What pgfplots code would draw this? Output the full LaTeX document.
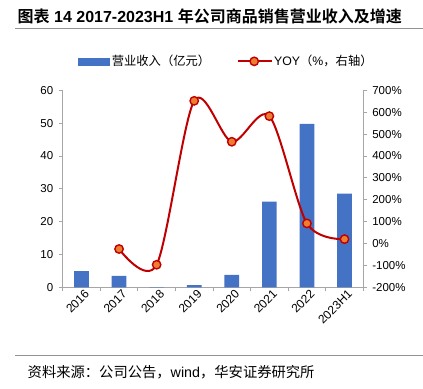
\documentclass[border=0pt]{standalone}
\usepackage{fontspec}
\setmainfont{Liberation Sans}
\newfontfamily\cjk{Noto Sans CJK SC}[BoldFont={Noto Sans CJK SC Bold}]
\usepackage{pgfplots}
\pgfplotsset{compat=1.18}
\definecolor{barblue}{HTML}{4472C4}
\definecolor{linered}{HTML}{C00000}
\definecolor{mkorange}{HTML}{ED7D31}
\definecolor{axgray}{HTML}{A6A6A6}
\pgfplotsset{
  barleg/.style={legend image code/.code={\fill[barblue] (0bp,-3.5bp) rectangle (31bp,3.5bp);}},
  lineleg/.style={legend image code/.code={\draw[##1, mark repeat=2, mark phase=2] plot coordinates {(0bp,0bp) (16bp,0bp) (33bp,0bp)};}},
}
\begin{document}
\begin{tikzpicture}
\path[use as bounding box] (0bp,0bp) rectangle (423bp,389bp);
% title
\node[anchor=west,inner sep=0pt] at (17.5bp,373bp) {\fontsize{16bp}{18bp}\selectfont\bfseries{\cjk 图表} 14 2017-2023H1 {\cjk 年公司商品销售营业收入及增速}};
\draw[color=gray!85, line width=1.5bp] (15bp,360.5bp) -- (423bp,360.5bp);
% source
\draw[color=gray!85, line width=1bp] (15bp,33bp) -- (423bp,33bp);
\node[anchor=west,inner sep=0pt] at (27.5bp,17bp) {\fontsize{14.3bp}{16bp}\selectfont{\cjk 资料来源：公司公告，}wind{\cjk ，华安证券研究所}};

\begin{axis}[
  at={(62.7bp,101.7bp)}, anchor=south west,
  scale only axis, width=300.6bp, height=197bp,
  xmin=-0.5, xmax=7.5, ymin=0, ymax=60,
  axis y line*=left, axis x line*=bottom,
  axis line style={axgray, line width=0.8bp},
  every tick/.style={axgray, line width=0.8bp},
  ytick={0,10,...,60},
  xtick={0,...,7},
  xticklabels={2016,2017,2018,2019,2020,2021,2022,2023H1},
  minor xtick={-0.5,0.5,...,7.5},
  major x tick style={draw=none},
  tick align=outside,
  major tick length=4bp, minor tick length=4bp,
  ticklabel style={font=\fontsize{11.5bp}{13bp}\selectfont},
  xticklabel style={font=\fontsize{12bp}{14bp}\selectfont, rotate=45, anchor=north east, inner sep=1bp, xshift=4.5bp, yshift=1bp},
  yticklabel style={xshift=-2bp},
  /pgf/number format/assume math mode=true,
  clip=false,
]
\addplot[ybar, bar width=14.7bp, fill=barblue, draw=none] coordinates {
 (0,4.95) (1,3.5) (2,0.05) (3,0.7) (4,3.8) (5,26.1) (6,49.8) (7,28.5)};
\end{axis}

\begin{axis}[
  at={(62.7bp,101.7bp)}, anchor=south west,
  scale only axis, width=300.6bp, height=197bp,
  xmin=-0.5, xmax=7.5, ymin=-200, ymax=700,
  axis y line*=right, axis x line=none,
  axis line style={axgray, line width=0.8bp},
  every tick/.style={axgray, line width=0.8bp},
  ytick={-200,-100,...,700},
  tick align=outside, major tick length=4bp,
  ticklabel style={font=\fontsize{11.5bp}{13bp}\selectfont},
  yticklabel={\pgfmathprintnumber{\tick}\%},
  yticklabel style={xshift=1.5bp},
  /pgf/number format/assume math mode=true,
  clip=false,
  legend columns=2,
  legend style={at={(0.545,1.147)}, anchor=center, draw=none, fill=none,
    font=\fontsize{12.3bp}{14bp}\selectfont, inner sep=0pt,
    /tikz/every even column/.append style={column sep=25bp}},
]
\addlegendimage{barleg}
\addlegendentry{\cjk 营业收入（亿元）}
\addplot[linered, line width=2bp, smooth, mark=*, mark size=4.2bp,
  mark options={fill=mkorange, draw=linered, line width=1.4bp}, lineleg]
 coordinates {(1,-25) (2,-97) (3,652) (4,465) (5,582) (6,92) (7,20)};
\addlegendentry{YOY{\cjk （}\%{\cjk ，右轴）}}
\end{axis}
\end{tikzpicture}
\end{document}
